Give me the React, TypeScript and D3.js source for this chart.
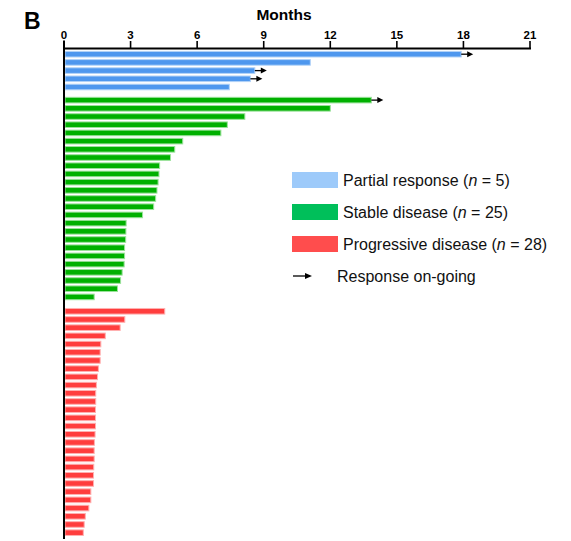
import React from "react";
import * as d3 from "d3";

const partialValues = [17.9, 11.1, 8.6, 8.4, 7.45];
const partialOngoing = [true, false, true, true, false];
const stableValues = [13.85, 12.0, 8.15, 7.36, 7.07, 5.35, 4.99, 4.8, 4.31, 4.28, 4.24, 4.19, 4.13, 4.04, 3.54, 2.8, 2.79, 2.78, 2.73, 2.73, 2.71, 2.62, 2.55, 2.41, 1.36];
const stableOngoing = [true];
const progressiveValues = [4.54, 2.74, 2.53, 1.86, 1.66, 1.63, 1.63, 1.55, 1.51, 1.46, 1.43, 1.43, 1.42, 1.42, 1.42, 1.4, 1.37, 1.36, 1.36, 1.34, 1.33, 1.33, 1.21, 1.21, 1.12, 0.96, 0.91, 0.87];
const tickValues = [0, 3, 6, 9, 12, 15, 18, 21];
const legendLabels = [
  { pre: "Partial response (", n: "n", post: " = 5)" },
  { pre: "Stable disease (", n: "n", post: " = 25)" },
  { pre: "Progressive disease (", n: "n", post: " = 28)" },
];
const legendArrowLabel = "Response on-going";

const groups = [
  { values: partialValues, ongoing: partialOngoing, fill: "#4e97ee", stroke: "#b3d3f8", legend: "#9dcafa", slotStart: 0 },
  { values: stableValues, ongoing: stableOngoing, fill: "#00b000", stroke: "#9be29b", legend: "#00bf5a", slotStart: 5.6 },
  { values: progressiveValues, ongoing: [] as boolean[], fill: "#ff3d3d", stroke: "#ffb0b0", legend: "#ff4d4d", slotStart: 31.35 },
];

export default function App() {
  const W = 571, H = 541;
  const x = d3.scaleLinear().domain([0, 21]).range([64, 530]);
  const y = d3.scaleLinear().domain([0, 1]).range([54.2, 62.4]);
  const barH = 5.6;
  const font = "'Liberation Sans', Arial, sans-serif";
  const axisY = 48.5;

  const bars: React.ReactNode[] = [];
  const arrows: React.ReactNode[] = [];
  groups.forEach((g, gi) => {
    g.values.forEach((v, i) => {
      const cy = y(g.slotStart + i);
      bars.push(
        <rect key={`b${gi}-${i}`} x={x(0) + 1} y={cy - barH / 2} width={x(v) - x(0) - 1} height={barH}
          fill={g.fill} stroke={g.stroke} strokeWidth={1} />
      );
      if (g.ongoing[i]) {
        const x0 = x(v);
        arrows.push(
          <g key={`a${gi}-${i}`}>
            <line x1={x0} x2={x0 + 7} y1={cy} y2={cy} stroke="#000" strokeWidth={1.3} />
            <path d={`M${x0 + 6},${cy - 3} L${x0 + 12},${cy} L${x0 + 6},${cy + 3} Z`} fill="#000" />
          </g>
        );
      }
    });
  });

  const legendX = 292;
  const legendRows = [180, 212, 244];

  return (
    <svg width={W} height={H} style={{ position: "absolute", left: 0, top: 0, background: "#fff" }} fontFamily={font}>
      <text x={24} y={28.5} fontSize={23} fontWeight="bold">B</text>
      <text x={284} y={20} fontSize={15.5} fontWeight="bold" textAnchor="middle">Months</text>
      {bars}
      {arrows}
      {/* top axis */}
      <line x1={x(0)} x2={x(21) + 1} y1={axisY} y2={axisY} stroke="#000" strokeWidth={2} />
      {tickValues.map((t) => (
        <g key={`t${t}`}>
          <line x1={x(t)} x2={x(t)} y1={axisY} y2={41} stroke="#000" strokeWidth={1.6} />
          <text x={x(t)} y={38.5} fontSize={11.5} fontWeight="bold" textAnchor="middle">{t}</text>
        </g>
      ))}
      {/* left axis */}
      <line x1={x(0)} x2={x(0)} y1={axisY - 8} y2={539} stroke="#000" strokeWidth={2} />
      {/* legend */}
      {legendLabels.map((l, i) => (
        <g key={`l${i}`}>
          <rect x={legendX} y={legendRows[i] - 8} width={46} height={16} fill={groups[i].legend} />
          <text x={legendX + 51} y={legendRows[i] + 6} fontSize={16} fill="#111">
            {l.pre}<tspan fontStyle="italic">{l.n}</tspan>{l.post}
          </text>
        </g>
      ))}
      <g>
        <line x1={legendX + 1} x2={legendX + 14} y1={276} y2={276} stroke="#000" strokeWidth={1.3} />
        <path d={`M${legendX + 13},${273} L${legendX + 20},${276} L${legendX + 13},${279} Z`} fill="#000" />
        <text x={legendX + 45} y={282} fontSize={16} fill="#111">{legendArrowLabel}</text>
      </g>
    </svg>
  );
}
